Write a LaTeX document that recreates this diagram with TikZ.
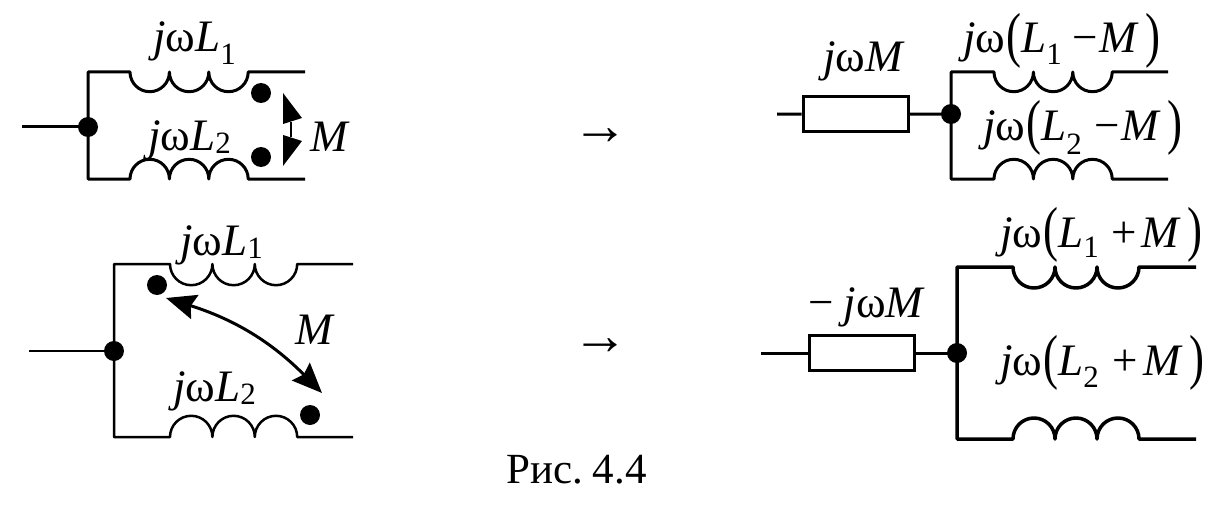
\documentclass[tikz,border=0pt]{standalone}
\usepackage{graphicx}
\usepackage{fontspec}
\setmainfont{Liberation Serif}
\usetikzlibrary{arrows.meta}

\newcommand{\jw}{\textit{j}ω}
\newcommand{\Ls}[2]{\textit{L}\raisebox{-#2pt}{\fontsize{31}{31}\selectfont #1}}
\newcommand{\lp}{\kern 1pt\raisebox{-2pt}{\scalebox{1}[1.35]{(}}}
\newcommand{\rp}{\raisebox{-2pt}{\scalebox{1}[1.35]{)}}}
% three coil humps, #2 = end angle: 0 bulges down, 360 bulges up
\newcommand{\hump}[2]{arc[start angle=180,end angle=#2,x radius=#1,y radius=#1]
  arc[start angle=180,end angle=#2,x radius=#1,y radius=#1]
  arc[start angle=180,end angle=#2,x radius=#1,y radius=#1]}

\tikzset{
  wire/.style={line width=3pt,line join=round},
  junction/.style={circle,fill=black,inner sep=0pt,minimum size=20pt},
  lbl/.style={anchor=base west,inner sep=0pt,font=\fontsize{45}{50}\selectfont},
  zbox/.style={draw,line width=3pt,fill=white,inner sep=0pt,minimum width=105pt,minimum height=35pt},
  tips/.style={{Stealth[length=30pt,width=25pt,inset=4pt]}-{Stealth[length=30pt,width=25pt,inset=4pt]}},
  goes/.style={inner sep=0pt,font=\fontsize{56}{56}\selectfont},
}

\begin{document}
\begin{tikzpicture}[x=1pt,y=-1pt]
\useasboundingbox (0,0) rectangle (1223,516);

% upper left
\node[junction] (dotA) at (88,127) {};
\node[junction] (markA1) at (261,93) {};
\node[junction] (markA2) at (261,157) {};
\coordinate (inA) at (22,127);
\coordinate (topA) at (130,72);
\coordinate (topAend) at (305,72);
\coordinate (botA) at (130,179);
\coordinate (botAend) at (305,179);
\draw[wire] (inA) -- (dotA.center);
\draw[wire] (dotA.center) |- (topA) \hump{19.7}{0} -- (topAend);
\draw[wire] (dotA.center) |- (botA) \hump{19.7}{360} -- (botAend);
\fill (283,93) -- (302,118) -- (283,124) -- cycle;
\fill (283,135) -- (302,141) -- (283,166) -- cycle;
\draw[line width=2.5pt] (291,122) -- (291,137);
\node[lbl] (lA1) at (153,52) {\jw\Ls{1}{13}};
\node[lbl] (lA2) at (148,150) {\jw\Ls{2}{3}};
\node[lbl] (mA) at (310,152) {\textit{M}};

% upper right
\node[junction] (dotB) at (951,114) {};
\node[zbox] (zB) at (855.5,114.5) {};
\coordinate (inB) at (777,114);
\coordinate (topB) at (994,72);
\coordinate (topBend) at (1168,72);
\coordinate (botB) at (994,179);
\coordinate (botBend) at (1168,179);
\draw[wire] (inB) -- (zB);
\draw[wire] (zB) -- (dotB.center);
\draw[wire] (dotB.center) |- (topB) \hump{19.7}{0} -- (topBend);
\draw[wire] (dotB.center) |- (botB) \hump{19.7}{360} -- (botBend);
\node[lbl] (lB0) at (823,72) {\jw\textit{M}};
\node[lbl] (lB1) at (963,53) {\jw\lp\Ls{1}{12}\kern 11pt−\kern 1pt\textit{M}\kern 7pt\rp};
\node[lbl] (lB2) at (983,140) {\jw\lp\Ls{2}{14}\kern 13pt−\kern 1pt\textit{M}\kern 7pt\rp};

% lower left
\node[junction] (dotC) at (114,351) {};
\node[junction] (markC1) at (157,285) {};
\node[junction] (markC2) at (310,415) {};
\coordinate (inC) at (29,351);
\coordinate (topC) at (170,264);
\coordinate (topCend) at (353,264);
\coordinate (botC) at (170,437);
\coordinate (botCend) at (353,437);
\coordinate (arrC1) at (166,298);
\coordinate (arrC2) at (322,393);
\draw[wire,line width=2.5pt] (inC) -- (dotC.center);
\draw[wire,line width=2.5pt] (dotC.center) |- (topC) \hump{21.2}{0} -- (topCend);
\draw[wire,line width=2.5pt] (dotC.center) |- (botC) \hump{21.2}{360} -- (botCend);
\draw[wire,tips] (arrC1) to[bend left=14] (arrC2);
\node[lbl] (lC1) at (180,255) {\jw\Ls{1}{3}};
\node[lbl] (lC2) at (173,401) {\jw\Ls{2}{3}};
\node[lbl] (mC) at (295,344) {\textit{M}};

% lower right
\node[junction] (dotD) at (957,353) {};
\node[zbox] (zD) at (861.5,353) {};
\coordinate (inD) at (761,353);
\coordinate (topD) at (1013,267);
\coordinate (topDend) at (1196,267);
\coordinate (botD) at (1013,439);
\coordinate (botDend) at (1196,439);
\draw[wire] (inD) -- (zD);
\draw[wire] (zD) -- (dotD.center);
\draw[wire,line width=3.5pt] (dotD.center) |- (topD) \hump{21}{0} -- (topDend);
\draw[wire,line width=3.5pt] (dotD.center) |- (botD) \hump{21}{360} -- (botDend);
\node[lbl] (lD0) at (808,317) {−\kern 10pt\jw\textit{M}};
\node[lbl] (lD1) at (1000,247) {\jw\lp\Ls{1}{10}\kern 13pt+\kern 4pt\textit{M}\kern 7pt\rp};
\node[lbl] (lD2) at (1000,375) {\jw\lp\Ls{2}{12}\kern 14pt+\kern 5pt\textit{M}\kern 7pt\rp};

% middle and caption
\node[goes] (toUp) at (600.5,137) {→};
\node[goes] (toLow) at (600.5,347) {→};
\node[lbl,font=\fontsize{43}{50}\selectfont] (cap) at (506,483) {Рис.\kern 10pt 4.4};
\end{tikzpicture}
\end{document}
